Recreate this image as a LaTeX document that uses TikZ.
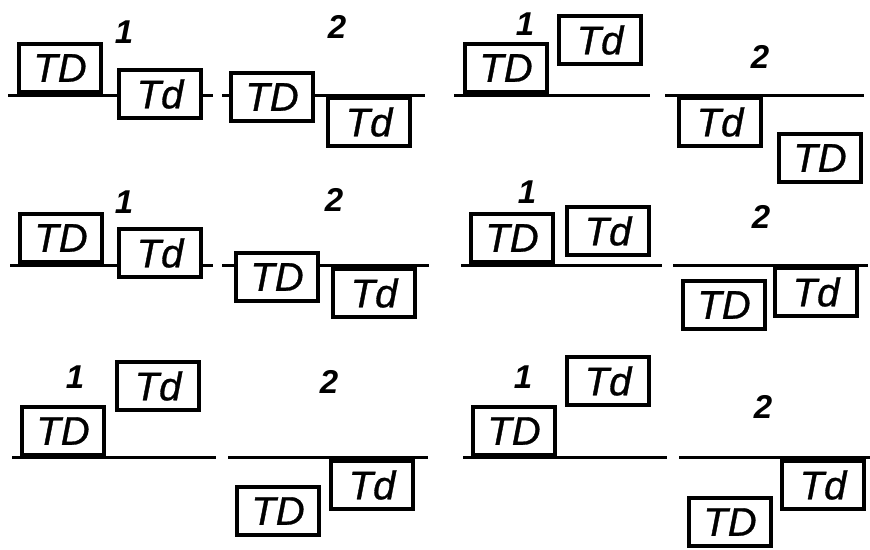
\documentclass[tikz,border=0pt]{standalone}
\usepackage{fontspec}
\setmainfont{Liberation Sans}
\newfontfamily\boxfont[FakeBold=0.8]{Liberation Sans}

\tikzset{
    tbox/.style={draw, line width=4pt, minimum width=82pt, minimum height=48pt,
        inner sep=0pt, outer sep=0pt, fill=white,
        font=\boxfont\itshape\fontsize{40}{40}\selectfont},
    num/.style={font=\bfseries\itshape\fontsize{33}{33}\selectfont, inner sep=0pt},
    wire/.style={line width=3pt}
}

\begin{document}
\begin{tikzpicture}[x=1pt, y=-1pt]
            \useasboundingbox (0, 0) rectangle (870, 549);
            %\draw[lightgray] (0, 0) grid[step=50] (870, 549);

            % top left
            \coordinate (a1) at (8, 95);
            \coordinate (a2) at (213, 95);
            \coordinate (a3) at (222, 95);
            \coordinate (a4) at (425, 95);
            \node[tbox] (TDa) at (60, 68) {TD};
            \node[tbox] (Tda) at (160, 94) {Td};
            \node[tbox] (TDb) at (272, 97) {TD};
            \node[tbox] (Tdb) at (369, 122) {Td};
            \draw[wire] (a1) -- (a1 -| Tda.west);
            \draw[wire] (a2 -| Tda.east) -- (a2);
            \draw[wire] (a3) -- (a3 -| TDb.west);
            \draw[wire] (a4 -| TDb.east) -- (a4);
            \node[num] (na1) at (124, 32) {1};
            \node[num] (na2) at (337, 27) {2};

            % top right
            \coordinate (b1) at (454, 95);
            \coordinate (b2) at (650, 95);
            \coordinate (b3) at (665, 95);
            \coordinate (b4) at (864, 95);
            \draw[wire] (b1) -- (b2);
            \draw[wire] (b3) -- (b4);
            \node[tbox] (TDc) at (506, 68) {TD};
            \node[tbox] (Tdc) at (600, 40) {Td};
            \node[tbox] (Tdd) at (720, 122) {Td};
            \node[tbox] (TDd) at (820, 158) {TD};
            \node[num] (nb1) at (525, 24) {1};
            \node[num] (nb2) at (760, 57) {2};

            % middle left
            \coordinate (c1) at (10, 265);
            \coordinate (c2) at (213, 265);
            \coordinate (c3) at (222, 265);
            \coordinate (c4) at (429, 265);
            \node[tbox] (TDe) at (61, 238) {TD};
            \node[tbox] (Tde) at (160, 253) {Td};
            \node[tbox] (TDf) at (277, 277) {TD};
            \node[tbox] (Tdf) at (374, 293) {Td};
            \draw[wire] (c1) -- (c1 -| Tde.west);
            \draw[wire] (c2 -| Tde.east) -- (c2);
            \draw[wire] (c3) -- (c3 -| TDf.west);
            \draw[wire] (c4 -| TDf.east) -- (c4);
            \node[num] (nc1) at (124, 202) {1};
            \node[num] (nc2) at (334, 200) {2};

            % middle right
            \coordinate (d1) at (461, 265);
            \coordinate (d2) at (662, 265);
            \coordinate (d3) at (673, 265);
            \coordinate (d4) at (868, 265);
            \draw[wire] (d1) -- (d2);
            \draw[wire] (d3) -- (d4);
            \node[tbox] (TDg) at (512, 238) {TD};
            \node[tbox] (Tdg) at (608, 231) {Td};
            \node[tbox] (TDh) at (724, 305) {TD};
            \node[tbox] (Tdh) at (816, 292) {Td};
            \node[num] (nd1) at (527, 192) {1};
            \node[num] (nd2) at (761, 217) {2};

            % bottom left
            \coordinate (e1) at (12, 457);
            \coordinate (e2) at (216, 457);
            \coordinate (e3) at (228, 457);
            \coordinate (e4) at (428, 457);
            \draw[wire] (e1) -- (e2);
            \draw[wire] (e3) -- (e4);
            \node[tbox] (TDi) at (63, 431) {TD};
            \node[tbox] (Tdi) at (158, 386) {Td};
            \node[tbox] (TDj) at (278, 511) {TD};
            \node[tbox] (Tdj) at (372, 485) {Td};
            \node[num] (ne1) at (75, 377) {1};
            \node[num] (ne2) at (329, 382) {2};

            % bottom right
            \coordinate (f1) at (463, 457);
            \coordinate (f2) at (667, 457);
            \coordinate (f3) at (679, 457);
            \coordinate (f4) at (870, 457);
            \draw[wire] (f1) -- (f2);
            \draw[wire] (f3) -- (f4);
            \node[tbox] (TDk) at (514, 431) {TD};
            \node[tbox] (Tdk) at (608, 381) {Td};
            \node[tbox] (TDl) at (730, 522) {TD};
            \node[tbox] (Tdl) at (823, 485) {Td};
            \node[num] (nf1) at (523, 377) {1};
            \node[num] (nf2) at (763, 407) {2};
\end{tikzpicture}
\end{document}
